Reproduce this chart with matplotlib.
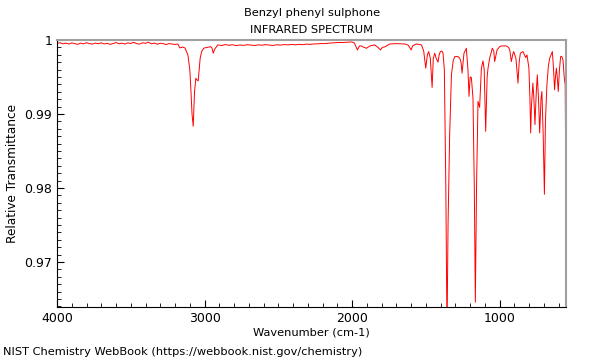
import matplotlib
matplotlib.use('Agg')
import matplotlib.pyplot as plt
from matplotlib.ticker import MultipleLocator

# values (wavenumber in cm-1, relative transmittance)
wavenumber = [
    4000, 3980, 3960, 3940, 3920, 3900, 3880, 3860, 3840, 3820,
    3800, 3780, 3760, 3740, 3720, 3700, 3680, 3660, 3640, 3620,
    3600, 3580, 3560, 3540, 3520, 3500, 3480, 3460, 3440, 3420,
    3400, 3380, 3360, 3340, 3320, 3300, 3280, 3260, 3240, 3220,
    3200, 3181, 3167, 3150, 3133, 3113, 3100, 3092, 3085, 3077,
    3068, 3059, 3052, 3043, 3030, 3020, 3005, 2980, 2960, 2950,
    2941, 2930, 2910, 2885, 2860, 2835, 2810, 2785, 2760, 2735,
    2710, 2685, 2660, 2635, 2610, 2585, 2560, 2535, 2510, 2485,
    2460, 2435, 2410, 2385, 2360, 2335, 2310, 2285, 2260, 2235,
    2210, 2185, 2150, 2120, 2090, 2060, 2030, 2002, 1985, 1964,
    1950, 1937, 1920, 1903, 1880, 1847, 1825, 1808, 1795, 1779,
    1745, 1700, 1665, 1643, 1620, 1600, 1590, 1564, 1545, 1530,
    1515, 1501, 1490, 1481, 1470, 1458, 1450, 1440, 1430, 1418,
    1410, 1402, 1392, 1384, 1375, 1365, 1357, 1350, 1339, 1327,
    1315, 1305, 1295, 1282, 1271, 1262, 1255, 1242, 1226, 1215,
    1208, 1200, 1192, 1181, 1172, 1165, 1157, 1147, 1136, 1124,
    1113, 1105, 1095, 1085, 1079, 1068, 1050, 1040, 1034, 1025,
    1018, 1000, 988, 970, 955, 940, 932, 921, 912, 905,
    890, 876, 868, 860, 842, 824, 815, 808, 802, 795,
    790, 785, 775, 768, 761, 752, 745, 737, 729, 720,
    714, 705, 697, 690, 680, 670, 661, 652, 643, 635,
    628, 622, 616, 610, 603, 595, 587, 580, 571, 563,
    556, 550,
]
transmittance = [
    0.99955, 0.99962, 0.99948, 0.99958, 0.99945, 0.99960, 0.99952, 0.99940, 0.99957, 0.99948,
    0.99963, 0.99950, 0.99944, 0.99958, 0.99949, 0.99961, 0.99946, 0.99955, 0.99940, 0.99952,
    0.99965, 0.99948, 0.99957, 0.99945, 0.99960, 0.99953, 0.99968, 0.99950, 0.99944, 0.99962,
    0.99955, 0.99970, 0.99948, 0.99958, 0.99942, 0.99956, 0.99950, 0.99938, 0.99952, 0.99944,
    0.99940, 0.99945, 0.99892, 0.99905, 0.99892, 0.99798, 0.99600, 0.99300, 0.99000, 0.98833,
    0.99300, 0.99484, 0.99460, 0.99448, 0.99750, 0.99843, 0.99890, 0.99900, 0.99910, 0.99892,
    0.99821, 0.99880, 0.99933, 0.99925, 0.99938, 0.99928, 0.99935, 0.99924, 0.99932, 0.99927,
    0.99936, 0.99930, 0.99925, 0.99934, 0.99929, 0.99937, 0.99930, 0.99926, 0.99935, 0.99931,
    0.99938, 0.99933, 0.99940, 0.99934, 0.99941, 0.99936, 0.99944, 0.99940, 0.99946, 0.99948,
    0.99952, 0.99950, 0.99958, 0.99962, 0.99966, 0.99965, 0.99970, 0.99973, 0.99960, 0.99865,
    0.99920, 0.99919, 0.99900, 0.99888, 0.99919, 0.99933, 0.99900, 0.99865, 0.99900, 0.99906,
    0.99946, 0.99950, 0.99948, 0.99946, 0.99930, 0.99865, 0.99920, 0.99946, 0.99940, 0.99933,
    0.99850, 0.99619, 0.99800, 0.99843, 0.99750, 0.99358, 0.99750, 0.99821, 0.99750, 0.99700,
    0.99800, 0.99843, 0.99850, 0.99821, 0.99600, 0.98000, 0.96000, 0.97500, 0.98721, 0.99529,
    0.99720, 0.99775, 0.99775, 0.99775, 0.99754, 0.99700, 0.99552, 0.99821, 0.99888, 0.99600,
    0.99237, 0.99500, 0.99493, 0.99215, 0.98000, 0.96456, 0.98000, 0.99170, 0.99089, 0.99619,
    0.99717, 0.99600, 0.98766, 0.99500, 0.99619, 0.99754, 0.99888, 0.99850, 0.99708, 0.99800,
    0.99865, 0.99910, 0.99919, 0.99920, 0.99919, 0.99900, 0.99865, 0.99708, 0.99800, 0.99843,
    0.99750, 0.99417, 0.99700, 0.99821, 0.99843, 0.99762, 0.99798, 0.99700, 0.99619, 0.99200,
    0.98744, 0.99100, 0.99417, 0.99200, 0.98856, 0.99300, 0.99529, 0.99200, 0.98744, 0.99200,
    0.99304, 0.98700, 0.97914, 0.98900, 0.99394, 0.99650, 0.99754, 0.99800, 0.99843, 0.99600,
    0.99327, 0.99500, 0.99619, 0.99500, 0.99304, 0.99600, 0.99775, 0.99780, 0.99731, 0.99500,
    0.99394, 0.97350,
]

x_major = [4000, 3000, 2000, 1000]
y_major = [0.97, 0.98, 0.99, 1.0]
y_labels = ['0.97', '0.98', '0.99', '1']

fig = plt.figure(figsize=(6, 3.6), dpi=100)
ax = fig.add_axes([0.095, 0.147, 0.848, 0.742])

ax.plot(wavenumber, transmittance, color='#ff0000', lw=0.7)

ax.set_xlim(4000, 552)
ax.set_ylim(0.9639, 1.0)
ax.set_xticks(x_major)
ax.set_xticklabels([str(v) for v in x_major])
ax.xaxis.set_minor_locator(MultipleLocator(100))
ax.set_yticks(y_major)
ax.set_yticklabels(y_labels)
ax.yaxis.set_minor_locator(MultipleLocator(0.001))

ax.tick_params(which='both', direction='in', top=False, right=False, labelsize=9)
ax.tick_params(which='major', length=5)
ax.tick_params(which='minor', length=3)

for side in ['top', 'right']:
    ax.spines[side].set_color('#a0a0a0')
    ax.spines[side].set_linewidth(1.5)

ax.set_xlabel('Wavenumber (cm-1)', fontsize=8.2, labelpad=2)
ax.set_ylabel('Relative Transmittance', fontsize=8.7)

fig.text(0.52, 0.965, 'Benzyl phenyl sulphone', ha='center', va='center', fontsize=8.2)
fig.text(0.52, 0.918, 'INFRARED SPECTRUM', ha='center', va='center', fontsize=8.2)
fig.text(0.005, 0.022, 'NIST Chemistry WebBook (https://webbook.nist.gov/chemistry)',
         ha='left', va='center', fontsize=8.2)

fig.savefig('out.png', dpi=100)
